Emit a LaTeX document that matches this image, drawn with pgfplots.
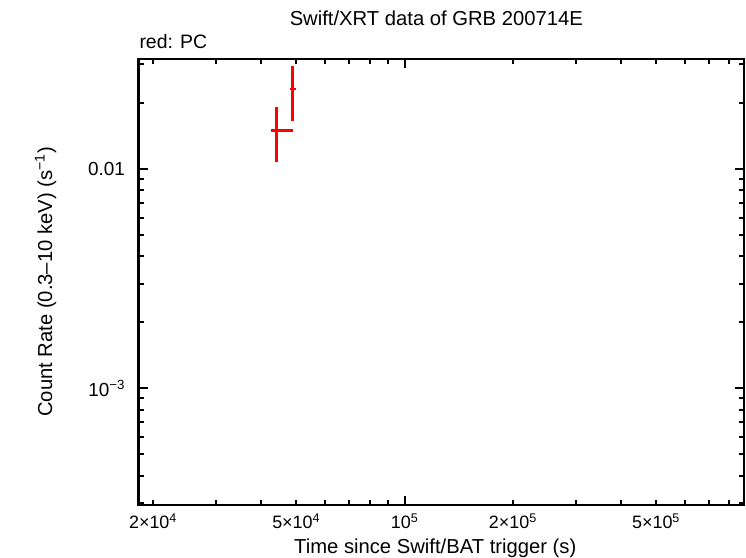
\documentclass[border=0pt]{standalone}
\usepackage{fontspec}
\setmainfont{Liberation Sans}
\usepackage{pgfplots}
\pgfplotsset{compat=1.18}
\begin{document}
\begin{tikzpicture}
\useasboundingbox (-138.5bp,-53bp) rectangle (607.5bp,505bp);
\begin{axis}[
  scale only axis,
  width=605.5bp, height=446bp,
  xmode=log, ymode=log,
  xmin=18230, xmax=878000,
  ymin=2.94e-4, ymax=0.03175,
  axis line style={line width=2.5bp},
  every tick/.style={black, line width=2bp},
  major tick length=9bp, minor tick length=5bp,
  tick align=inside,
  xtick={100000},
  xticklabels={10\textsuperscript{5}},
  extra x ticks={20000,50000,200000,500000},
  extra x tick labels={2×10\textsuperscript{4},5×10\textsuperscript{4},2×10\textsuperscript{5},5×10\textsuperscript{5}},
  extra x tick style={major tick length=5bp},
  minor xtick={20000,30000,40000,50000,60000,70000,80000,90000,200000,300000,400000,500000,600000,700000,800000},
  ytick={0.001,0.01},
  yticklabels={10\textsuperscript{−3},0.01},
  minor ytick={0.0003,0.0004,0.0005,0.0006,0.0007,0.0008,0.0009,0.002,0.003,0.004,0.005,0.006,0.007,0.008,0.009,0.02,0.03},
  xticklabel style={font=\fontsize{18}{21}\selectfont, yshift=-5bp},
  yticklabel style={font=\fontsize{19}{22}\selectfont, xshift=-10bp},
  clip=false,
]
\addplot[draw=none, mark=none,
  error bars/.cd, x dir=both, x explicit, y dir=both, y explicit,
  error mark=none, error bar style={draw=red, line width=2.5bp}]
  coordinates {
  (44030,0.01501) += (4890,0.00422) -= (1490,0.00421)
  (48790,0.02317) += (1060,0.00632) -= (720,0.00656)
  };
\node[anchor=base, font=\fontsize{20.3}{24}\selectfont, inner sep=0pt, xshift=-5bp, yshift=33.3bp] at (rel axis cs:0.5,1) {Swift/XRT data of GRB 200714E};
\node[anchor=base west, font=\fontsize{19.5}{23}\selectfont, inner sep=0pt, xshift=0.8bp, yshift=10.7bp] at (rel axis cs:0,1) {red: PC};
\node[anchor=base, font=\fontsize{20.3}{24}\selectfont, inner sep=0pt, xshift=-6bp, yshift=-48.3bp] at (rel axis cs:0.5,0) {Time since Swift/BAT trigger (s)};
\node[anchor=base, rotate=90, font=\fontsize{20.3}{24}\selectfont, inner sep=0pt, yshift=86.5bp] at (rel axis cs:0,0.5) {Count Rate (0.3–10 keV) (s\textsuperscript{−1})};
\end{axis}
\end{tikzpicture}
\end{document}
